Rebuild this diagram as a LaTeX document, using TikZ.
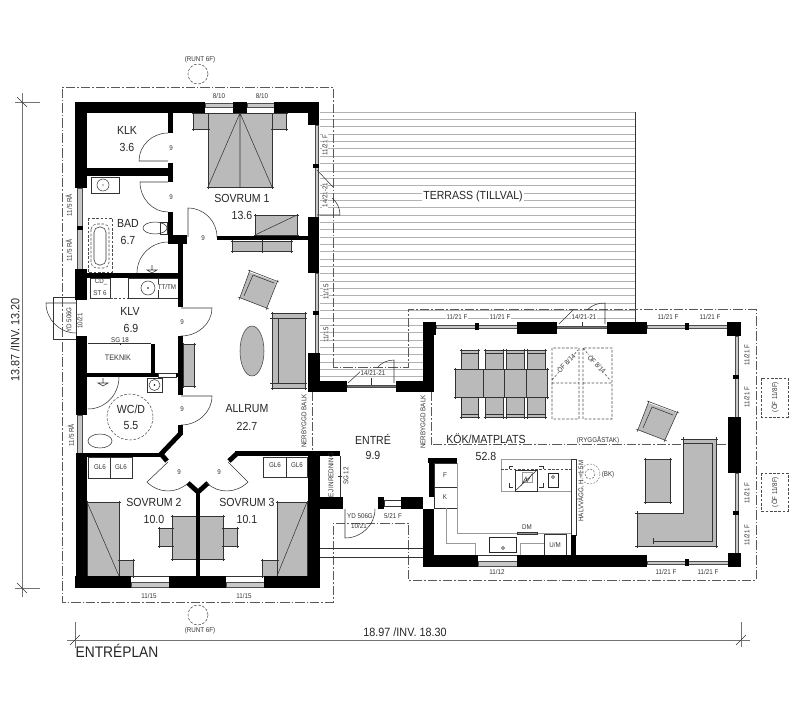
\documentclass[tikz,border=0pt]{standalone}
\usepackage{fontspec}
\setmainfont[FakeStretch=0.9]{Liberation Sans}
\usepackage{tikz}
\tikzstyle{wall} = [fill=black]
\tikzstyle{bevel} = [draw=black, line width=3.6pt, line join=miter]
\tikzstyle{fine} = [draw=black!80, line width=.4pt]
\tikzstyle{pale} = [draw=black!40, line width=.45pt]
\tikzstyle{hatch} = [draw=black!30, line width=.45pt]
\tikzstyle{glass} = [draw=black!70, fill=black!22, line width=.35pt]
\tikzstyle{slab} = [draw=none, fill=black!27]
\tikzstyle{chain} = [draw=black!65, line width=.45pt, dash pattern=on 7pt off 1.5pt on 1.2pt off 1.5pt]
\tikzstyle{hidden} = [draw=black!70, line width=.4pt, dash pattern=on 2pt off 1.2pt]
\tikzstyle{dimline} = [draw=black!55, line width=.7pt]
\tikzstyle{room} = [inner sep=0pt, text=black!85, font=\fontsize{8.8}{9}\selectfont]
\tikzstyle{mid} = [inner sep=0pt, text=black!80, font=\fontsize{6}{7}\selectfont]
\tikzstyle{small} = [inner sep=0pt, text=black!80, font=\fontsize{5.2}{6}\selectfont]
\tikzstyle{over} = [fill=white, inner sep=.3pt]
\tikzstyle{dimtext} = [inner sep=0pt, text=black!85, font=\fontsize{9}{10}\selectfont]
% hinge, leaf tip, end of swing
\newcommand{\door}[6]{\draw[fine] (#1,#2) -- (#3,#4)
  .. controls ({#3+.55*(#5-#1)},{#4+.55*(#6-#2)}) and ({#5+.55*(#3-#1)},{#6+.55*(#4-#2)}) .. (#5,#6);}
% grey box whose edges run past the corners
\newcommand{\furn}[4]{\fill[slab] (#1,#2) rectangle (#3,#4);
  \draw[fine] ({#1-1.5},#2) -- ({#3+1.5},#2) ({#1-1.5},#4) -- ({#3+1.5},#4) (#1,{#2-1.5}) -- (#1,{#4+1.5}) (#3,{#2-1.5}) -- (#3,{#4+1.5});}
\begin{document}
\begin{tikzpicture}[x=.75pt,y=-.75pt]
\useasboundingbox (0,0) rectangle (800,714);

% terrace
\foreach \ty in {0,...,28} \draw[hatch] (320,{112+\ty*7.35}) -- (635,{112+\ty*7.35});
\foreach \ty in {29,...,36} \draw[hatch] (320,{112+\ty*7.35}) -- (423,{112+\ty*7.35});
\draw[fine] (635,112) -- (635,322);

% roof outline
\draw[chain] (333,367) -- (333,87) -- (62,87) -- (62,602) -- (333,602) -- (333,523) -- (408,523) -- (408,580) -- (756,580) -- (756,309) -- (408,309) -- (408,367) -- cycle;
\draw[chain] (312,392) -- (312,451);
\draw[chain] (431,392) -- (431,445);
\draw[chain] (433,444.5) -- (728,444.5);
\draw[fine] (320,548) -- (423,548);
\draw[fine] (320,557) -- (423,557);

% furniture, grey
\furn{208}{113}{272}{187}
\draw[fine] (240,113) -- (240,187) (208,187) -- (240,113) -- (272,187);
\furn{193}{113}{208}{129}
\furn{272}{113}{286}{129}
\furn{255}{215}{297}{235}
\draw[fine] (255,235) -- (297,215);
\furn{232}{241}{262}{251}
\furn{262}{241}{291}{251}
\fill[slab] (249,272) -- (277,282) -- (267,308) -- (240,298) -- cycle;
\draw[fine] (248,270) -- (279,282) (238,297) -- (269,309) (250,270) -- (239,300) (278,280) -- (266,310);
\draw[fine] (244,296) -- (253,275) -- (274,283);
\furn{272}{313}{305}{388}
\draw[fine] (270,318) -- (307,318) (270,383) -- (307,383) (278,318) -- (278,383);
\fill[slab, draw=black!75, line width=.4pt] (252,351) ellipse [x radius=12, y radius=25];
\furn{183}{344}{194}{386}
\furn{87}{502}{119}{576}
\draw[fine] (87,502) -- (119,576);
\furn{119}{560}{133}{576}
\furn{277}{502}{307}{576}
\draw[fine] (307,502) -- (277,576);
\furn{262}{560}{277}{576}
\furn{172}{516}{223}{559}
\furn{159}{528}{172}{546}
\furn{223}{528}{237}{546}
\foreach \cx/\cw in {461/478,485/503,506/524,527/545} {
  \furn{\cx}{350}{\cw}{369}
  \furn{\cx}{397}{\cw}{417}
  \draw[fine] (\cx,353) -- (\cw,353) (\cx,414) -- (\cw,414);
}
\furn{455}{369}{547}{397}
\draw[fine] (483,369) -- (483,397) (504,369) -- (504,397) (526,369) -- (526,397);
\fill[slab] (648,403) -- (677,413) -- (665,440) -- (638,430) -- cycle;
\draw[fine] (647,401) -- (679,413) (636,429) -- (667,441) (649,401) -- (637,432) (678,411) -- (664,442);
\draw[fine] (643,428) -- (652,407) -- (673,415);
\fill[slab] (683,439) -- (716,439) -- (716,546) -- (637,546) -- (637,513) -- (683,513) -- cycle;
\draw[fine] (683,437) -- (683,513) -- (635,513) (637,511) -- (637,548) (635,546) -- (718,546) (716,548) -- (716,437) (681,439) -- (718,439);
\draw[fine] (683,443) -- (712,443) -- (712,541) -- (653,541) (653,538) -- (653,544);
\furn{645}{459}{670}{502}

% skylights
\draw[hidden] (552,348) rectangle (579,419) (552,383) -- (579,383) (552,380) -- (578,350);
\draw[hidden] (583,348) rectangle (612,419) (583,383) -- (612,383) (583,348) -- (610,380);

% bathrooms and fittings
\draw[fine] (91,177) rectangle (119,193);
\draw[fine] (103,185) circle [radius=6];
\fill (103,185) circle [radius=.7];
\draw[hidden] (88,218) rectangle (112,272);
\draw[hidden, rounded corners=4pt] (91,224) rectangle (109,268);
\draw[fine, rounded corners=4pt] (94,227) rectangle (106,265);
\draw[fine] (155,228) ellipse [x radius=12, y radius=6];
\draw[fine] (160,222) rectangle (167,234);
\draw[fine] (152,265) -- (152,270) (147,270) -- (157,270) -- (152,273) -- cycle;
\draw[fine] (90,278) rectangle (110,298);
\draw[fine] (128,278) rectangle (178,298);
\draw[fine] (158,278) -- (158,298);
\draw[fine] (148,288) circle [radius=7];
\fill (148,288) circle [radius=.8];
\draw[hidden] (110,298) -- (128,298);
\draw[fine] (147,378) rectangle (162,392);
\draw[fine] (154.5,385) circle [radius=5.5];
\fill (154.5,385) circle [radius=.8];
\draw[fine] (100,441) ellipse [x radius=12, y radius=7];
\draw[hidden] (130,417) circle [radius=23];
\draw[fine] (103,378) -- (103,383) (98,383) -- (108,383) -- (103,386) -- cycle;
\draw[fine] (88,343) -- (151,343) (120,341) -- (120,345);
\draw[fine] (53,297) rectangle (76,339);
\draw[fine] (88,457) rectangle (132,478) (110,457) -- (110,478);
\draw[fine] (263,457) rectangle (307,477) (286,457) -- (286,477);
\draw[fine] (316,456) -- (316,497) (340,456) -- (340,497) (338,476) -- (342,476);

% kitchen
\draw[pale] (501,459) rectangle (571,491);
\draw[hidden] (501,469) -- (571,469);
\draw[fine] (515,470) rectangle (537,491);
\draw[pale] (522,472) rectangle (532,482);
\draw[fine] (515,491) -- (537,470) (521,486) -- (526,477) -- (527,482) -- (532,474);
\draw[fine] (509,469) -- (509,466) -- (513,466) (543,469) -- (543,466) -- (539,466) (509,483) -- (509,487) -- (513,487) (543,483) -- (543,487) -- (539,487);
\draw[draw=black!85, line width=.7pt] (548,473) rectangle (558,487);
\draw[fine] (553,477) circle [radius=1.5];
\draw[fine] (434,463) rectangle (457,487);
\draw[fine] (434,487) rectangle (457,508);
\draw[pale] (457,463) -- (457,533) -- (571,533);
\draw[pale] (446,508) -- (446,543) -- (475,543) -- (475,555);
\draw[pale] (520,555) -- (520,543) -- (544,543);
\draw[fine] (544,534) rectangle (566,555);
\draw[fine] (517,532) rectangle (537,534);
\draw[draw=black!85, line width=.7pt] (489,537) rectangle (516,552);
\draw[fine] (503,548) circle [radius=1.5];
\draw[fine, fill=white] (571,459) rectangle (576,535);
\draw[draw=black!45, line width=.4pt, dash pattern=on 1.5pt off 1pt] (590,474) circle [radius=10];
\draw[draw=black!60, line width=.4pt, dash pattern=on 1.5pt off 1pt] (590,474) circle [radius=5];

% windows
\fill[white] (205,102) rectangle (233,113) (247,102) rectangle (274,113);
\draw[glass] (205,103.5) rectangle (233,107.5);
\draw[glass] (247,103.5) rectangle (274,107.5);
\draw[fine] (205,113) -- (233,113) (247,113) -- (274,113);
\draw[glass] (131,582) rectangle (169,587);
\draw[glass] (226,582) rectangle (264,587);
\draw[fine] (131,576) -- (169,576) (226,576) -- (264,576);
\draw[glass] (478,561) rectangle (517,566);
\draw[fine] (478,555) -- (517,555);
\draw[glass] (77,188) rectangle (82,228);
\draw[glass] (77,228) rectangle (82,269);
\draw[glass] (77,415) rectangle (82,453);
\draw[glass] (315,125) rectangle (318,166);
\draw[glass] (315,166) rectangle (318,217);
\draw[glass] (315,273) rectangle (318,313);
\draw[glass] (315,313) rectangle (318,353);
\draw[glass] (436,325) rectangle (517,328);
\draw[glass, fill=black!55] (557,326) rectangle (607,328.5);
\draw[glass] (647,325) rectangle (727,328);
\draw[glass] (647,561) rectangle (728,564);
\draw[glass] (735,336) rectangle (738,377);
\draw[glass] (735,377) rectangle (738,417);
\draw[glass] (735,473) rectangle (738,513);
\draw[glass] (735,513) rectangle (738,553);
\draw[glass, fill=black!55] (347,385) rectangle (396,387.5);
\draw[fine, fill=white] (384,500) rectangle (401,506);
\draw[fine, fill=white] (158,373) rectangle (176,377);
\draw[fine] (582,322) -- (582,326) (371,378) -- (371,385);

% walls
\foreach \xa/\ya/\xb/\yb in {75/102/205/113, 233/102/247/113, 274/102/319/113, 308/102/319/125,
  75/102/87/188, 75/269/87/300, 87/168/173/176, 168/113/173/133, 168/163/173/182, 168/212/173/243,
  168/235/187/244, 178/240/183/307, 217/236/308/240, 308/217/319/273, 308/353/320/392, 308/381/347/392,
  396/381/434/392, 423/322/434/392, 423/322/436/335, 87/273/178/278, 76/336/87/415, 76/453/87/588,
  87/373/158/377, 176/373/178/377, 151/344/155/373, 178/336/183/395, 178/425/183/435, 87/453/160/457,
  235/451/340/456, 308/451/320/588, 75/576/131/588, 169/576/226/588, 264/576/320/588, 196/492/200/576,
  308/497/343/509, 378/497/384/509, 401/497/423/509, 429/458/434/497, 423/509/434/567, 428/458/457/463,
  423/555/478/567, 517/555/647/567, 571/535/576/555, 728/553/741/567, 728/417/741/473, 727/322/741/336,
  517/322/557/334, 607/322/647/334}
  \fill[wall] (\xa,\ya) rectangle (\xb,\yb);
\foreach \mx/\my in {80/228, 316/166, 316/313, 736/377, 736/513} \fill[wall] (\mx-3,\my-2) rectangle (\mx+3,\my+2);
\foreach \mx/\my in {477/326, 687/326, 687/562} \fill[wall] (\mx-2,\my-3.5) rectangle (\mx+2,\my+3.5);
\draw[bevel] (181,433) -- (161,454) -- (167,461);
\draw[bevel] (229,461) -- (237,453.5);
\draw[bevel] (188,483) -- (198,492) -- (208,483);

% doors
\door{168}{161}{139}{161}{168}{133}
\door{168}{182}{140}{182}{168}{212}
\door{188}{237}{188}{208}{217}{237}
\door{181}{308}{212}{308}{181}{336}
\door{181}{396}{212}{396}{181}{425}
\door{76}{303}{46}{303}{76}{333}
\door{168}{462}{147}{482}{188}{483}
\door{228}{462}{248}{482}{207}{483}
\door{345}{509}{345}{538}{375}{509}
\draw[fine] (317,215) -- (340,215) .. controls (340,208) and (337,202) .. (332,198);
\draw[fine] (394,383) -- (394,360) .. controls (387,360) and (381,363) .. (377,368);
\draw[fine] (605,324) -- (605,303) .. controls (598,303) and (592,305) .. (587,310);
\draw[fine] (137,273) .. controls (137,256) and (151,242) .. (168,242);
\draw[fine] (88,409) .. controls (105,409) and (119,395) .. (119,377);
\draw[fine] (317,170) -- (333,187) (348,383) -- (362,370) (559,324) -- (573,310);

% dimensions
\draw[dimline] (22,93) -- (22,597) (15,102) -- (40,102) (15,588) -- (40,588);
\draw[fine] (17,97) -- (27,107) (17,583) -- (27,593);
\draw[dimline] (67,640) -- (750,640) (75,622) -- (75,648) (741,622) -- (741,647);
\draw[fine] (70,645) -- (80,635) (736,645) -- (746,635);
\draw[hidden] (198,74) circle [radius=10];
\draw[hidden] (198,615) circle [radius=10];
\draw[hidden] (761,378) rectangle (788,417);
\draw[hidden] (761,473) rectangle (788,511);

% labels
\node (klk)[room] at (127,130){KLK};
\node (klkarea)[room] at (127,147){3.6};
\node (bad)[room] at (128,223){BAD};
\node (badarea)[room] at (128,240){6.7};
\node (sov1)[room] at (242,198){SOVRUM 1};
\node (sov1area)[room] at (242,215){13.6};
\node (klv)[room] at (130,311){KLV};
\node (klvarea)[room] at (131,328){6.9};
\node (wcd)[room] at (131,409){WC/D};
\node (wcdarea)[room] at (131,426){5.5};
\node (allrum)[room] at (247,409){ALLRUM};
\node (allrumarea)[room] at (247,426){22.7};
\node (sov2)[room] at (154,502){SOVRUM 2};
\node (sov2area)[room] at (154,519){10.0};
\node (sov3)[room] at (247,502){SOVRUM 3};
\node (sov3area)[room] at (247,519){10.1};
\node (entre)[room] at (373,439){ENTRÉ};
\node (entrearea)[room] at (373,455){9.9};
\node (kok)[room] at (486,439){KÖK/MATPLATS};
\node (kokarea)[room] at (486,456){52.8};
\node (terrass)[room, fill=white, inner sep=1pt] at (473,196){TERRASS (TILLVAL)};

\node (teknik)[mid] at (118,358){TEKNIK};
\node (ttm)[small, over] at (167,287){TT/TM};
\node (ejin)[small, rotate=90] at (331,475){EJ INREDNING};
\node (halv)[small, rotate=90] at (581,491){HALVVÄGG, H.=1.5M};
\node (balka)[small, rotate=90] at (304,421){NERBYGGD BALK};
\node (balkb)[small, rotate=90] at (423,422){NERBYGGD BALK};

\node (cd)[small] at (101,282){CD\_};
\node (st)[small] at (100,293){ST 6};
\node (sga)[small, over] at (120,340){SG 18};
\node (sgb)[small, over, rotate=90] at (346,476){SG 12};
\foreach \gx/\gy [count=\gi] in {100/467,121/467,275/465,297/465} \node (gl\gi)[small] at (\gx,\gy){GL6};
\foreach \nx/\ny [count=\ni] in {171/148,171/197,203/238,182/322,182/409,179/472,219/472} \node (nio\ni)[small] at (\nx,\ny){9};
\node (w1)[small] at (219,96){8/10};
\node (w2)[small] at (262,96){8/10};
\node (w3)[small] at (149,596){11/15};
\node (w4)[small] at (244,596){11/15};
\node (w5)[small] at (497,572){11/12};
\node (w6)[small] at (666,572){11/21 F};
\node (w7)[small] at (708,572){11/21 F};
\node (w8)[small, over] at (457,317){11/21 F};
\node (w9)[small, over] at (500,317){11/21 F};
\node (w10)[small, over] at (668,317){11/21 F};
\node (w11)[small, over] at (710,317){11/21 F};
\node (w12)[small] at (393,516){5/21 F};
\node (w13)[small, over] at (584,317){14/21-21};
\node (w14)[small, over] at (373,373){14/21-21};
\node (w15)[small, over, rotate=90] at (325,145){11/21 F};
\node (w16)[small, over, rotate=90] at (325,195){14/21-21};
\node (w17)[small, over, rotate=90] at (326,292){11/15};
\node (w18)[small, over, rotate=90] at (326,335){11/15};
\node (w19)[small, rotate=90] at (69,205){11/5 RÅ};
\node (w20)[small, rotate=90] at (69,250){11/5 RÅ};
\node (w21)[small, rotate=90] at (71,435){11/5 RÅ};
\node (w22)[small, rotate=90] at (747,355){11/21 F};
\node (w23)[small, rotate=90] at (747,397){11/21 F};
\node (w24)[small, rotate=90] at (747,493){11/21 F};
\node (w25)[small, rotate=90] at (747,535){11/21 F};
\node (yda)[small, rotate=90] at (69,320){YD 506G};
\node (ydb)[small, rotate=90] at (80,321){10/21};
\node (ydc)[small] at (360,516){YD 506G};
\node (ydd)[small] at (359,526){10/21};
\node (dm)[small] at (527,527){DM};
\node (um)[small] at (555,545){U/M};
\node (fr)[small] at (445,475){F};
\node (fz)[small] at (445,497){K};
\node (bk)[small] at (608,475){(BK)};
\node (rygg)[small, over] at (598,440){(RYGGÅSTAK)};
\node (runta)[small] at (200,60){(RUNT 6F)};
\node (runtb)[small] at (200,631){(RUNT 6F)};
\node (ofa)[small, rotate=90] at (775,397){(ÖF 11/8F)};
\node (ofb)[small, rotate=90] at (775,492){(ÖF 11/8F)};
\node (sky1)[small, over, rotate=45] at (566,363){ÖF 8/14};
\node (sky2)[small, over, rotate=-45] at (597,364){ÖF 8/14};

\node (widthdim)[dimtext] at (405,632){18.97 /INV. 18.30};
\node (heightdim)[dimtext, rotate=90] at (15,340){13.87 /INV. 13.20};
\node (planname)[inner sep=0pt, text=black!85, font=\fontsize{11.5}{12}\selectfont] at (117,651){ENTRÉPLAN};
\end{tikzpicture}
\end{document}
